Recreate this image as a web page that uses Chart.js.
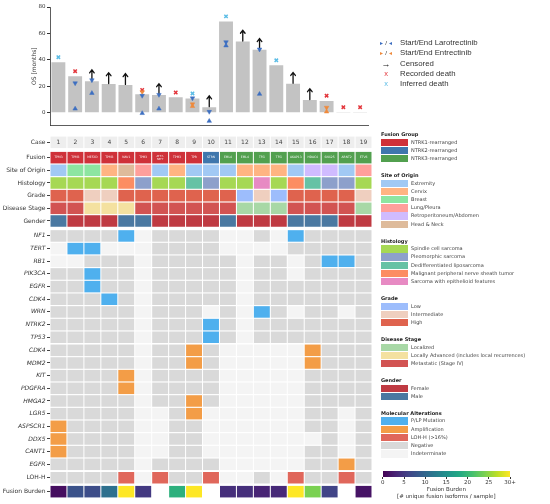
<!DOCTYPE html>
<html>
<head>
<meta charset="utf-8">
<script src="https://cdn.jsdelivr.net/npm/chart.js@4.4.1/dist/chart.umd.min.js"></script>
<style>
body{margin:0;width:550px;height:504px;background:#fff;position:relative;overflow:hidden;font-family:"DejaVu Sans",sans-serif;color:#333;}
#topWrap{position:absolute;left:0;top:0;width:374px;height:138px;}
#heatWrap{position:absolute;left:0;top:130px;width:374px;height:374px;}
.mk{position:absolute;left:372px;height:10px;line-height:10px;font-family:"Liberation Sans",Arial,sans-serif;font-size:7.8px;color:#333;white-space:nowrap;}
.mk .sym{display:inline-block;width:28px;text-align:center;vertical-align:top;}
.lt{position:absolute;left:381px;font-size:5px;font-weight:bold;color:#222;white-space:nowrap;line-height:6px;}
.lr{position:absolute;left:381px;width:27px;height:7.4px;}
.lx{position:absolute;left:411px;font-size:5px;color:#444;white-space:nowrap;line-height:7.4px;}
.cb{position:absolute;font-size:5.5px;color:#333;white-space:nowrap;}
</style>
</head>
<body>
<div id="topWrap"><canvas id="osChart"></canvas></div>
<div id="heatWrap"><canvas id="heatChart"></canvas></div>
<div id="legends"></div>
<script>
var fam = '"DejaVu Sans", sans-serif';

// ---- survival panel ----
var caseIds = ['1','2','3','4','5','6','7','8','9','10','11','12','13','14','15','16','17','18','19'];
var osMonths = [38.3, 27.7, 23.9, 21.8, 21.1, 14.0, 13.5, 11.8, 10.9, 4.3, 69.1, 53.9, 47.6, 36.0, 22.0, 9.7, 9.0, 0.7, 0.7];
var censored = ['3','4','5','7','10','12','13','15','16'];
var laroStart = [['2',3.1],['3',14.9],['6',-0.3],['7',3.1],['10',-6.2],['11',50.8],['13',14.2]];
var laroEnd = [['2',22.5],['3',24.8],['6',13.0],['7',13.7],['9',11.1],['10',0.9],['11',53.5],['13',48.0]];
var entrStart = [['9',5.0],['17',0.9]];
var entrEnd = [['6',15.8],['9',6.6],['17',4.0]];
var recordedDeath = [['2',31.5],['6',17.3],['8',15.4],['17',13.0],['18',4.3],['19',4.3]];
var inferredDeath = [['1',42.1],['9',14.7],['11',72.9],['14',39.7]];
var osTicks = [0, 20, 40, 60, 80];

// ---- clinical rows ----
var fusionGroups = ['NTRK1-rearranged','NTRK2-rearranged','NTRK3-rearranged'];
var fusionGroupColors = ['#cf3139','#3f77ad','#52a04f'];
var fusionGroup = [0,0,0,0,0,0,0,0,0,1,2,2,2,2,2,2,2,2,2];
var fusionPartner = ['TPM3','TPM3','MEF2D','TPM3','NAV1','TPM3','ATF7-\nNPFF','TPM3','TPR','STRN','EML4','EML4','TFG','TFG','AKAP13','HDAC4','SNX25','ARNT2','ETV6'];

var sites = ['Extremity','Cervix','Breast','Lung/Pleura','Retroperitoneum/Abdomen','Head & Neck'];
var siteColors = ['#a1c9f4','#ffb482','#8de5a1','#ff9f9b','#d0bbff','#debb9b'];
var siteOfOrigin = [0,2,2,1,5,3,0,1,0,0,0,1,1,1,0,4,4,0,3];

var histologies = ['Spindle cell sarcoma','Pleomorphic sarcoma','Dedifferentiated liposarcoma','Malignant peripheral nerve sheath tumor','Sarcoma with epithelioid features'];
var histologyColors = ['#a6d854','#8da0cb','#66c2a5','#fc8d62','#e78ac3'];
var histology = [0,0,0,0,3,1,0,0,2,1,0,0,4,0,3,2,1,1,0];

var grades = ['Low','Intermediate','High'];
var gradeColors = ['#9dbdfc','#efcfbf','#df634e'];
var grade = [2,2,1,1,2,2,2,2,2,2,2,0,1,0,2,2,2,2,1];

var stages = ['Localized','Locally Advanced (includes local recurrences)','Metastatic (Stage IV)'];
var stageColors = ['#a8d8a6','#f4e1a0','#d25352'];
var diseaseStage = [2,2,1,1,1,2,2,2,2,2,2,0,0,0,2,2,2,2,0];

var genders = ['Female','Male'];
var genderColors = ['#bf3a42','#4a78a1'];
var gender = [1,0,0,0,1,1,0,0,0,0,1,0,0,0,1,1,1,0,0];

// ---- molecular rows: M mutation, A amplification, L LOH-H, N negative, I indeterminate ----
var alterations = ['P/LP Mutation','Amplification','LOH-H (>16%)','Negative','Indeterminate'];
var alterationColors = ['#4fb0ee','#f39d47','#e0675b','#d9d9d9','#f4f4f4'];
var alterationCodes = 'MALNI';
var mutationGenes = ['NF1','TERT','RB1','PIK3CA','EGFR','CDK4','WRN','NTRK2','TP53'];
var mutationCalls = [
  'NNNNMINNNNIINIMNNNN',
  'IMMIIINNNNIIIINNNNN',
  'IINNNINNNNNINNINMMN',
  'NNMNNINNNNNINNINNNN',
  'NNMNNINNNNNINNNNNNN',
  'NNNMNINNNNNINNNNNNN',
  'NNNNNINNNINIMNINNIN',
  'NNNNNINNNMNINNNNNNN',
  'NNNNNINNNMNINNNNNNN'
];
var ampGenes = ['CDK4','MDM2','KIT','PDGFRA','HMGA2','LGR5','ASPSCR1','DDX5','CANT1','EGFR'];
var ampCalls = [
  'NNNNNINNANIIIIIANNN',
  'NNNNNINNANIIIIIANNN',
  'NNNNAINNNNIIIIINNNN',
  'NNNNAINNNNIIIIINNNN',
  'NNNNNINNANIIIIINNNN',
  'NNNNNIINAIIIIIINNIN',
  'ANNNNIINNIIIIIINNIN',
  'ANNNNIINNIIIIIIININ',
  'ANNNNIINNIIIIIINNIN',
  'NNNNNINNNNIIIIINNAN'
];
var lohCalls = 'NNNNLILNNLIINILNNLN';
var fusionBurden = [1, 7.5, 7, 11, 30, 5, null, 19, 30, null, 4, 4, 3, 3.5, 30, 24, 6, null, 1.5];
var burdenTicks = [0, 5, 10, 15, 20, 25, 30];
var burdenMax = 30;

var viridisStops = ['#440154','#482475','#414487','#355f8d','#2a788e','#21918c','#22a884','#44bf70','#7ad151','#bddf26','#fde725'];
function hexRgb(h){ return [1,3,5].map(function(k){ return parseInt(h.substr(k,2),16); }); }
function viridis(t){
  t = Math.max(0, Math.min(1, t));
  var f = t*10, i = Math.min(9, Math.floor(f)), u = f - i;
  var a = hexRgb(viridisStops[i]), b = hexRgb(viridisStops[i+1]);
  return 'rgb(' + [0,1,2].map(function(k){ return Math.round(a[k] + (b[k]-a[k])*u); }).join(',') + ')';
}
function pick(idx, cols){ return idx.map(function(v){ return cols[v]; }); }
function codes(s){ return s.split('').map(function(ch){ return alterationColors[alterationCodes.indexOf(ch)]; }); }

// rows of the heatmap, top to bottom
var rows = [];
rows.push({label:'Case', colors: caseIds.map(function(){ return '#eeeeee'; }), gap:0});
rows.push({label:'Fusion', colors: pick(fusionGroup, fusionGroupColors), gap:0.21});
rows.push({label:'Site of Origin', colors: pick(siteOfOrigin, siteColors), gap:0});
rows.push({label:'Histology', colors: pick(histology, histologyColors), gap:0});
rows.push({label:'Grade', colors: pick(grade, gradeColors), gap:0});
rows.push({label:'Disease Stage', colors: pick(diseaseStage, stageColors), gap:0});
rows.push({label:'Gender', colors: pick(gender, genderColors), gap:0});
mutationGenes.forEach(function(g, i){ rows.push({label:g, italic:true, colors: codes(mutationCalls[i]), gap: i===0 ? 0.18 : 0}); });
ampGenes.forEach(function(g, i){ rows.push({label:g, italic:true, colors: codes(ampCalls[i]), gap: i===0 ? 0.03 : 0}); });
rows.push({label:'LOH-H', colors: codes(lohCalls), gap:0.06});
rows.push({label:'Fusion Burden', colors: fusionBurden.map(function(v){ return v===null ? null : viridis(v/burdenMax); }), gap:0.1});

var acc = 0;
rows.forEach(function(r, i){ acc += r.gap; r.pos = i + acc; });

// ---------- survival chart ----------
function pts(list){ return list.map(function(p){ return {x:p[0], y:p[1]}; }); }
function markerSet(label, list, color, style, rot, radius, bw){
  return {type:'line', label:label, data:pts(list), showLine:false, pointStyle:style, rotation:rot,
    pointRadius:radius, pointBackgroundColor:color, pointBorderColor:color, pointBorderWidth:bw, order:1};
}

var arrowPlugin = {
  id:'censorArrows',
  afterDatasetDraw: function(chart, args){
    if (args.index !== 0) return;
    var ctx = chart.ctx, meta = chart.getDatasetMeta(0);
    ctx.save();
    ctx.strokeStyle = '#111'; ctx.lineWidth = 1.3; ctx.lineCap = 'round';
    censored.forEach(function(c){
      var el = meta.data[caseIds.indexOf(c)];
      var x = el.x, y = el.y - 0.5;
      ctx.beginPath();
      ctx.moveTo(x, y); ctx.lineTo(x, y - 10.5);
      ctx.moveTo(x - 2.3, y - 7.8); ctx.lineTo(x, y - 10.8); ctx.lineTo(x + 2.3, y - 7.8);
      ctx.stroke();
    });
    ctx.restore();
  }
};

new Chart(document.getElementById('osChart'), {
  type:'bar',
  data:{
    labels: caseIds,
    datasets:[
      {label:'OS', data: osMonths, backgroundColor:'#c3c3c3', barPercentage:0.83, categoryPercentage:1, order:2},
      markerSet('Larotrectinib start', laroStart, '#3d6fc1', 'triangle', 0, 2.6, 0.5),
      markerSet('Larotrectinib end', laroEnd, '#3d6fc1', 'triangle', 180, 2.6, 0.5),
      markerSet('Entrectinib start', entrStart, '#ef8a3c', 'triangle', 0, 2.6, 0.5),
      markerSet('Entrectinib end', entrEnd, '#ef8a3c', 'triangle', 180, 2.6, 0.5),
      markerSet('Recorded death', recordedDeath, '#e3363c', 'crossRot', 0, 2.4, 1.5),
      markerSet('Inferred death', inferredDeath, '#5cbde6', 'crossRot', 0, 2.4, 1.5)
    ]
  },
  options:{
    responsive:true, maintainAspectRatio:false, animation:false,
    layout:{padding:{top:7, bottom:4.7, right:2, left:0}},
    plugins:{legend:{display:false}, tooltip:{enabled:false}},
    scales:{
      x:{type:'category', ticks:{display:false}, grid:{display:false}, border:{display:true, color:'#333', width:0.8}},
      y:{min:-9.4, max:80,
        afterBuildTicks: function(s){ s.ticks = osTicks.map(function(v){ return {value:v}; }); },
        afterFit: function(s){ s.width = 50; },
        ticks:{font:{family:fam, size:5.5}, color:'#333', padding:1.5},
        grid:{drawOnChartArea:false, drawTicks:true, tickLength:3, color:'#333'},
        border:{display:true, color:'#333', width:0.8},
        title:{display:true, text:'OS [months]', font:{family:fam, size:6}, color:'#333', padding:{top:31, bottom:0}}
      }
    }
  },
  plugins:[arrowPlugin]
});

// ---------- heatmap chart ----------
var cellText = {
  id:'cellText',
  afterDatasetsDraw: function(chart){
    var ctx = chart.ctx;
    ctx.save();
    ctx.textAlign = 'center'; ctx.textBaseline = 'middle';
    chart.getDatasetMeta(0).data.forEach(function(el, i){
      var c = el.getCenterPoint();
      ctx.fillStyle = '#444'; ctx.font = '6px ' + fam;
      ctx.fillText(caseIds[i], c.x, c.y + 0.3);
    });
    chart.getDatasetMeta(1).data.forEach(function(el, i){
      var c = el.getCenterPoint();
      var lines = fusionPartner[i].split('\n');
      ctx.fillStyle = 'rgba(255,255,255,0.92)';
      ctx.font = (lines.length > 1 ? '2.6px ' : '3px ') + fam;
      lines.forEach(function(t, k){ ctx.fillText(t, c.x, c.y + (k - (lines.length-1)/2) * 3.1); });
    });
    ctx.restore();
  }
};

var heatSets = rows.map(function(r){
  return {
    label:r.label,
    data: caseIds.map(function(c, i){ return {x:c, y: r.colors[i] ? [r.pos - 0.455, r.pos + 0.455] : null}; }),
    backgroundColor: r.colors.map(function(c){ return c || 'rgba(0,0,0,0)'; }),
    grouped:false, barPercentage:0.94, categoryPercentage:1, borderWidth:0, borderSkipped:false
  };
});

new Chart(document.getElementById('heatChart'), {
  type:'bar',
  data:{labels: caseIds, datasets: heatSets},
  options:{
    responsive:true, maintainAspectRatio:false, animation:false,
    layout:{padding:{top:6, bottom:6, right:2, left:0}},
    plugins:{legend:{display:false}, tooltip:{enabled:false}},
    scales:{
      x:{type:'category', display:false},
      y:{reverse:true, min:-0.5, max: rows[rows.length-1].pos + 0.5,
        afterBuildTicks: function(s){ s.ticks = rows.map(function(r){ return {value:r.pos}; }); },
        afterFit: function(s){ s.width = 50; },
        ticks:{autoSkip:false, padding:1.5, color:'#333',
          callback: function(v, i){ return rows[i].label; },
          font: function(ctx){ var r = rows[ctx.index]; return {family:fam, size:6, style: r && r.italic ? 'italic' : 'normal'}; }
        },
        grid:{drawOnChartArea:false, drawTicks:true, tickLength:3, color:'#444'},
        border:{display:false}
      }
    }
  },
  plugins:[cellText]
});

// ---------- legends (HTML text) ----------
var L = document.getElementById('legends');
function add(html){ L.insertAdjacentHTML('beforeend', html); }

var markerLegend = [
  ['<span style="font-size:6px"><span style="color:#3d6fc1">&#9656;</span> / <span style="color:#3d6fc1">&#9666;</span></span>', 'Start/End Larotrectinib'],
  ['<span style="font-size:6px"><span style="color:#ef8a3c">&#9656;</span> / <span style="color:#ef8a3c">&#9666;</span></span>', 'Start/End Entrectinib'],
  ['<span style="color:#111;font-size:9px;font-weight:bold">&#8594;</span>', 'Censored'],
  ['<span style="color:#e3363c;font-size:7.5px">x</span>', 'Recorded death'],
  ['<span style="color:#5cbde6;font-size:7.5px">x</span>', 'Inferred death']
];
markerLegend.forEach(function(m, i){
  add('<div class="mk" style="top:' + (37.7 + i*10.4) + 'px"><span class="sym">' + m[0] + '</span>' + m[1] + '</div>');
});

var legendGroups = [
  ['Fusion Group', fusionGroups, fusionGroupColors],
  ['Site of Origin', sites, siteColors],
  ['Histology', histologies, histologyColors],
  ['Grade', grades, gradeColors],
  ['Disease Stage', stages, stageColors],
  ['Gender', genders, genderColors],
  ['Molecular Alterations', alterations, alterationColors]
];
var ty = 134;
legendGroups.forEach(function(g){
  add('<div class="lt" style="top:' + (ty - 3) + 'px">' + g[0] + '</div>');
  g[1].forEach(function(name, k){
    var cy = ty + 8.3 + k*8.2;
    add('<div class="lr" style="top:' + (cy - 3.7) + 'px;background:' + g[2][k] + '"></div>');
    add('<div class="lx" style="top:' + (cy - 3.7) + 'px">' + name.replace('&','&amp;').replace('>','&gt;') + '</div>');
  });
  ty += g[1].length*8.2 + 16.4;
});

// colour bar for fusion burden
var cbL = 382.7, cbW = 127.3, cbT = 470.7;
add('<div style="position:absolute;left:' + cbL + 'px;top:' + cbT + 'px;width:' + cbW + 'px;height:6px;background:linear-gradient(to right,' + viridisStops.join(',') + ')"></div>');
burdenTicks.forEach(function(v){
  var x = cbL + cbW * v / burdenMax;
  add('<div style="position:absolute;left:' + (x - 0.3) + 'px;top:' + (cbT + 6) + 'px;width:0.6px;height:2px;background:#333"></div>');
  var t = v === burdenMax ? v + '+' : String(v);
  add('<div class="cb" style="left:' + (x - 10) + 'px;width:20px;text-align:center;top:' + (cbT + 8) + 'px;">' + t + '</div>');
});
add('<div class="cb" style="left:' + (cbL - 20) + 'px;width:' + (cbW + 40) + 'px;text-align:center;top:486px">Fusion Burden</div>');
add('<div class="cb" style="left:' + (cbL - 20) + 'px;width:' + (cbW + 40) + 'px;text-align:center;top:493px">[# unique fusion isoforms / sample]</div>');
</script>
</body>
</html>
